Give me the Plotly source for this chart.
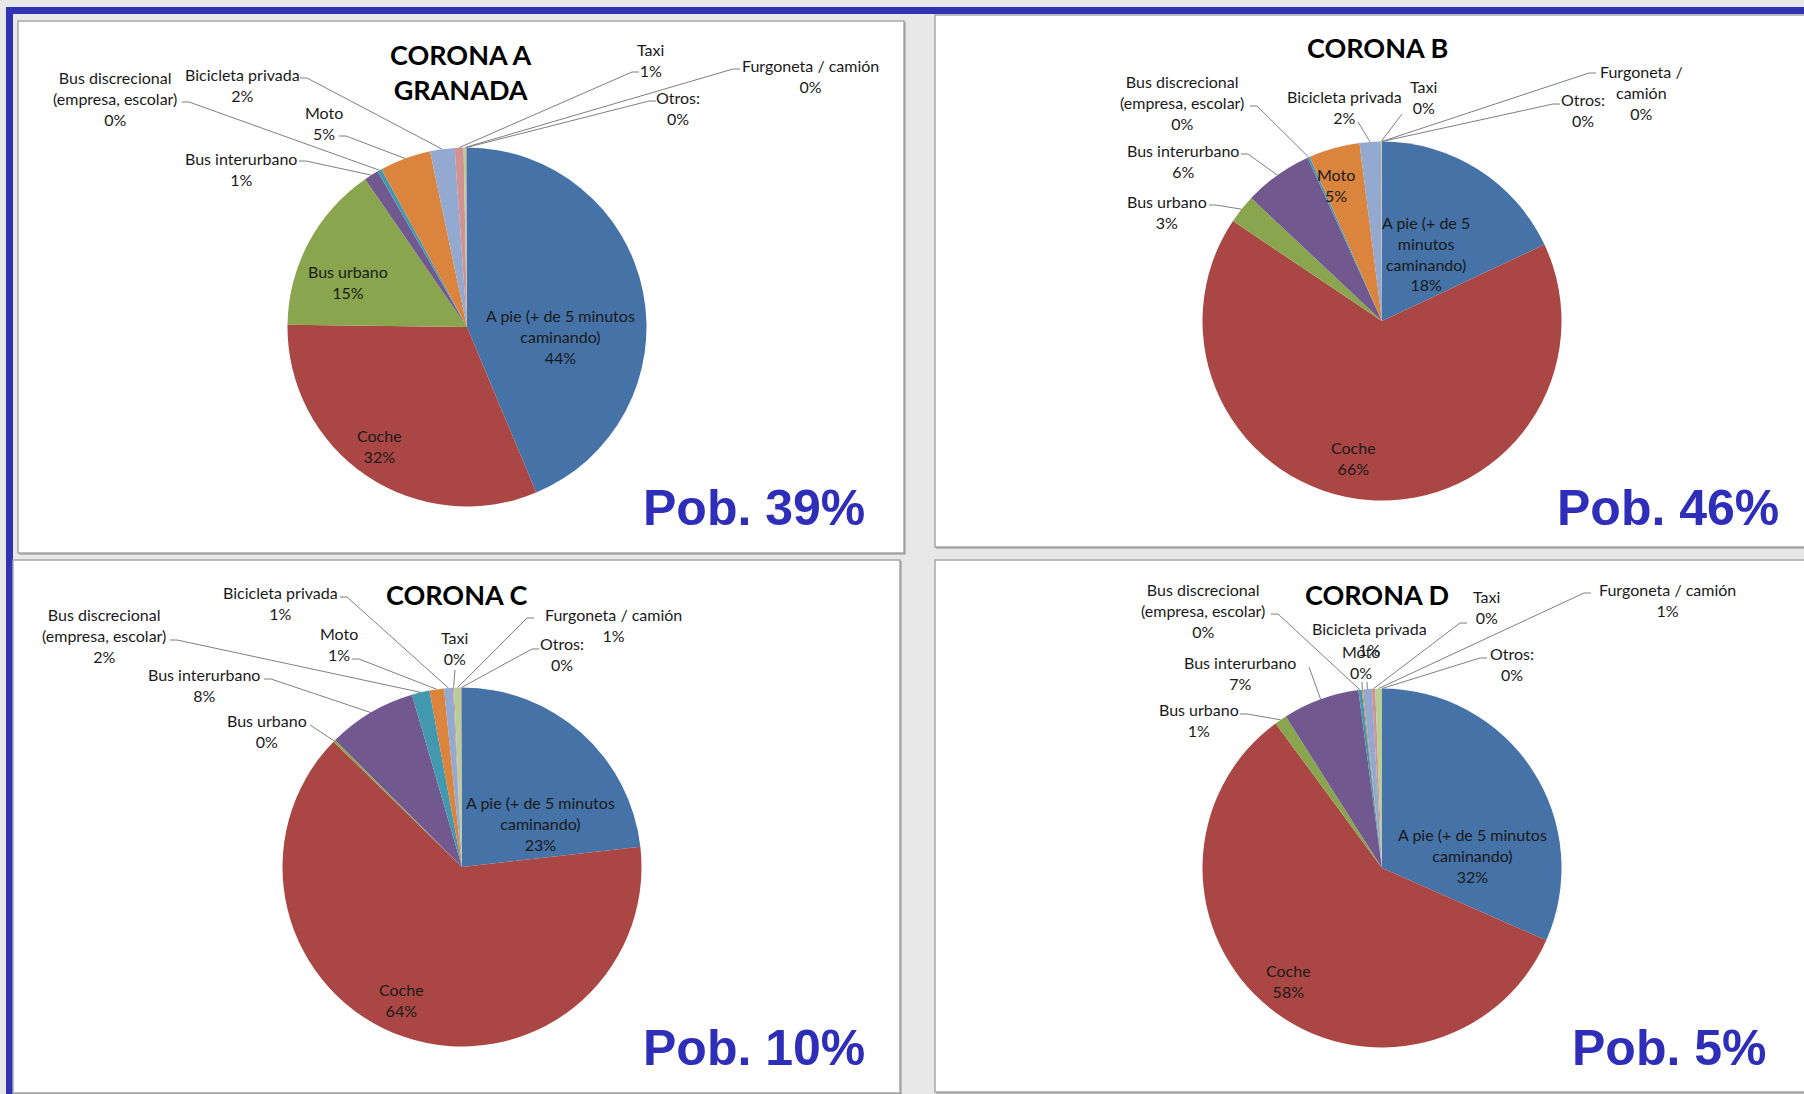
import math
import plotly.graph_objects as go

W, H = 1804, 1094

# ---------------- data ----------------
categories = ["A pie (+ de 5 minutos caminando)", "Coche", "Bus urbano", "Bus interurbano",
              "Bus discrecional (empresa, escolar)", "Moto", "Bicicleta privada", "Taxi",
              "Furgoneta / camión", "Otros:"]
values_a = [43.7, 31.5, 15.2, 1.3, 0.4, 4.6, 2.2, 0.8, 0.2, 0.1]
values_b = [18.0, 66.4, 2.6, 6.2, 0.2, 4.6, 1.9, 0.05, 0.05, 0.0]
values_c = [23.2, 64.1, 0.2, 8.0, 1.6, 1.3, 0.8, 0.1, 0.6, 0.1]
values_d = [31.6, 58.3, 1.1, 6.9, 0.3, 0.1, 0.8, 0.3, 0.6, 0.0]
titles = ["CORONA A<br>GRANADA", "CORONA B", "CORONA C", "CORONA D"]
poblacion = ["Pob. 39%", "Pob. 46%", "Pob. 10%", "Pob. 5%"]

# ---------------- styles ----------------
slice_colors = ["#4572A7", "#AA4643", "#89A54E", "#71588F", "#4198AF",
                "#DB843D", "#93A9CF", "#D19392", "#B9CD96", "#A99BBD"]
label_lines = ["A pie (+ de 5 minutos<br>caminando)", "Coche", "Bus urbano", "Bus interurbano",
               "Bus discrecional<br>(empresa, escolar)", "Moto", "Bicicleta privada", "Taxi",
               "Furgoneta / camión", "Otros:"]
LABEL_FONT = dict(family="Lato, 'Liberation Sans', sans-serif", size=16, color="#1a1a1a")
TITLE_FONT = dict(family="Lato, 'Liberation Sans', sans-serif", size=27, color="#000000")
POB_FONT = dict(family="'Liberation Sans', Arial, sans-serif", size=50, color="#2E2EB8")

# panel layout (pixel positions): box, pie centre/radius, title, pob, label positions
panels = [
    dict(values=values_a, box=(18, 21, 904, 553), c=(467, 327), r=179.5,
         title=(460, 72), pob=(867, 508),
         labels={0: (560, 336, None), 1: (379, 446, None), 2: (348, 282, None),
                 3: (241, 169, (299, 161)), 4: (115, 98, (182, 102)),
                 5: (324, 123, (339, 136)), 6: (242, 85, (300, 78)),
                 7: (650, 60, (639, 72)), 8: (810, 76, (740, 69)), 9: (678, 108, (656, 101))},
         override={}),
    dict(values=values_b, box=(935, 15, 1812, 547), c=(1382, 321), r=179.5,
         title=(1377, 47), pob=(1781, 508),
         labels={0: (1426, 253, None), 1: (1353, 458, None), 2: (1167, 212, (1209, 205)),
                 3: (1183, 161, (1241, 154)), 4: (1182, 102, (1250, 106)),
                 5: (1336, 185, None), 6: (1344, 107, (1358, 122)),
                 7: (1423, 97, (1402, 114)), 8: (1641, 92, (1596, 73)), 9: (1583, 110, (1560, 104))},
         override={0: "A pie (+ de 5<br>minutos<br>caminando)", 8: "Furgoneta /<br>camión"}),
    dict(values=values_c, box=(13, 560, 900, 1093), c=(462, 867), r=179.5,
         title=(456, 594), pob=(867, 1048),
         labels={0: (540, 823, None), 1: (401, 1000, None), 2: (267, 731, (310, 725)),
                 3: (204, 685, (264, 679)), 4: (104, 635, (170, 640)),
                 5: (339, 644, (352, 659)), 6: (280, 603, (340, 597)),
                 7: (454, 648, (455, 670)), 8: (613, 625, (534, 618)), 9: (562, 654, (539, 649))},
         override={}),
    dict(values=values_d, box=(935, 560, 1812, 1092), c=(1382, 868), r=179.5,
         title=(1377, 594), pob=(1768, 1048),
         labels={0: (1472, 855, None), 1: (1288, 981, None), 2: (1199, 720, (1240, 714)),
                 3: (1240, 673, (1309, 667)), 4: (1203, 610, (1271, 614)),
                 5: (1361, 662, (1362, 682)), 6: (1369, 639, (1367, 682)),
                 7: (1486, 607, (1467, 623)), 8: (1667, 600, (1591, 593)), 9: (1512, 664, (1487, 658))},
         override={}),
]


def pct_text(v, total):
    return "%d%%" % int(v / total * 100 + 0.5)


fig = go.Figure()

# invisible pixel axes covering the whole page (for leader lines, boxes and text)
fig.update_layout(
    xaxis=dict(range=[0, W], visible=False, domain=[0, 1], fixedrange=True),
    yaxis=dict(range=[H, 0], visible=False, domain=[0, 1], fixedrange=True),
)

shapes = []
annotations = []

# blue frame
shapes.append(dict(type="rect", xref="x", yref="y", x0=6, x1=W + 5, y0=7, y1=14,
                   fillcolor="#3232B4", line=dict(width=0), layer="below"))
shapes.append(dict(type="rect", xref="x", yref="y", x0=6, x1=13, y0=7, y1=H + 5,
                   fillcolor="#3232B4", line=dict(width=0), layer="below"))

for k, p in enumerate(panels):
    x0, y0, x1, y1 = p["box"]
    # shadow + panel
    shapes.append(dict(type="rect", xref="x", yref="y", x0=x0 + 1, x1=x1 + 1.5, y0=y0 + 1, y1=y1 + 1.5,
                       fillcolor="#8E8E8E", line=dict(width=0), layer="below"))
    shapes.append(dict(type="rect", xref="x", yref="y", x0=x0, x1=x1, y0=y0, y1=y1,
                       fillcolor="#FFFFFF", line=dict(color="#A8A8A8", width=1.5), layer="below"))

    vals = p["values"]
    total = sum(vals)
    cx, cy = p["c"]
    r = p["r"]
    fig.add_trace(go.Pie(
        labels=categories, values=vals, sort=False, direction="clockwise", rotation=0,
        marker=dict(colors=slice_colors, line=dict(width=0)),
        textinfo="none", hoverinfo="label+percent", showlegend=False,
        domain=dict(x=[(cx - r) / W, (cx + r) / W], y=[1 - (cy + r) / H, 1 - (cy - r) / H]),
    ))

    # labels and leader lines
    cum = 0.0
    for i, v in enumerate(vals):
        mid = (cum + v / 2.0) / total
        cum += v
        lx, ly, anchor = p["labels"][i]
        name = p["override"].get(i, label_lines[i])
        annotations.append(dict(
            x=lx, y=ly, xref="x", yref="y", text=name + "<br>" + pct_text(v, total),
            showarrow=False, xanchor="center", yanchor="middle", align="center",
            font=LABEL_FONT))
        if anchor is not None:
            th = 2 * math.pi * mid
            ex = cx + r * math.sin(th)
            ey = cy - r * math.cos(th)
            ax, ay = anchor
            xs, ys = [ax], [ay]
            if abs(ex - ax) > 25:
                xs.append(ax + (7 if ex > ax else -7))
                ys.append(ay)
            xs.append(ex)
            ys.append(ey)
            fig.add_trace(go.Scatter(x=xs, y=ys, mode="lines", line=dict(color="#7F7F7F", width=1),
                                     hoverinfo="skip", showlegend=False))

    tx, ty = p["title"]
    annotations.append(dict(x=tx, y=ty, xref="x", yref="y", text="<b>" + titles[k] + "</b>",
                            showarrow=False, xanchor="center", yanchor="middle", align="center",
                            font=TITLE_FONT))
    px_, py_ = p["pob"]
    annotations.append(dict(x=px_, y=py_, xref="x", yref="y", text="<b>" + poblacion[k] + "</b>",
                            showarrow=False, xanchor="right", yanchor="middle", font=POB_FONT))

fig.update_layout(
    width=W, height=H, margin=dict(l=0, r=0, t=0, b=0),
    paper_bgcolor="#E8E8E8", plot_bgcolor="rgba(0,0,0,0)",
    shapes=shapes, annotations=annotations,
)

fig.write_html("out.html", config={"displayModeBar": False},
               post_script="document.body.style.margin='0';document.body.style.overflow='hidden';")
